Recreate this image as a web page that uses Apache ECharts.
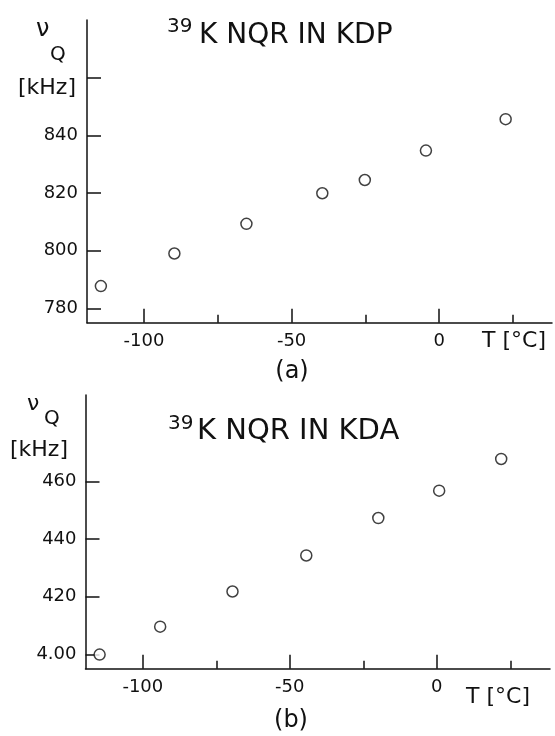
<!DOCTYPE html>
<html>
<head>
<meta charset="utf-8">
<script src="https://cdn.jsdelivr.net/npm/echarts@6.0.0/dist/echarts.min.js"></script>
<style>
  html, body { margin: 0; padding: 0; background: #fff; }
  #chart { width: 555px; height: 736px; }
</style>
</head>
<body>
<div id="chart"></div>
<script>
// (a) 39K NQR in KDP
const kdpT = [-114.6, -89.7, -65.3, -39.6, -25.2, -4.5, 22.5];
const kdpV = [787.7, 799.0, 809.3, 819.9, 824.5, 834.7, 845.6];
// (b) 39K NQR in KDA
const kdaT = [-114.7, -94.1, -69.5, -44.4, -19.9, 0.8, 21.9];
const kdaV = [399.9, 409.6, 421.8, 434.3, 447.3, 456.8, 467.8];

const xMajorTicks = [-100, -50, 0];
const xMinorTicks = [-75, -25, 25];
const kdpYTicks = [780, 800, 820, 840, 860];
const kdpYLabels = [780, 800, 820, 840];
const kdaYTicks = [400, 420, 440, 460];
const kdaYLabels = [400, 420, 440, 460];

const FONT = 'DejaVu Sans';
const INK = '#111';

const chart = echarts.init(document.getElementById('chart'), null, { renderer: 'canvas' });

function toPairs(xs, ys) {
  return xs.map((x, i) => [x, ys[i]]);
}

function xAxes(gridIndex, min, max) {
  return [
    {
      gridIndex: gridIndex, type: 'value', min: min, max: max, position: 'bottom',
      axisLine: { show: true, onZero: false, lineStyle: { color: INK, width: 1.5 } },
      axisTick: { show: true, inside: true, length: 14, customValues: xMajorTicks, lineStyle: { color: INK, width: 1.5 } },
      axisLabel: { show: true, customValues: xMajorTicks, margin: 10, color: INK, fontFamily: FONT, fontSize: 18 },
      splitLine: { show: false }
    },
    {
      gridIndex: gridIndex, type: 'value', min: min, max: max, position: 'bottom',
      axisLine: { show: false, onZero: false },
      axisTick: { show: true, inside: true, length: 8, customValues: xMinorTicks, lineStyle: { color: INK, width: 1.5 } },
      axisLabel: { show: false },
      splitLine: { show: false }
    }
  ];
}

function yAxis(gridIndex, min, max, ticks, labels, fmt) {
  return {
    gridIndex: gridIndex, type: 'value', min: min, max: max, position: 'left',
    axisLine: { show: true, onZero: false, lineStyle: { color: INK, width: 1.5 } },
    axisTick: { show: true, inside: true, length: 14, customValues: ticks, lineStyle: { color: INK, width: 1.5 } },
    axisLabel: { show: true, customValues: labels, margin: 9, color: INK, fontFamily: FONT, fontSize: 18, formatter: fmt },
    splitLine: { show: false }
  };
}

const circleStyle = { color: '#fff', borderColor: INK, borderWidth: 1.5 };

function txt(x, y, text, size, align) {
  return {
    type: 'text', x: x, y: y, silent: true,
    style: { text: text, fill: INK, font: size + 'px "' + FONT + '"', align: align || 'left', verticalAlign: 'middle' }
  };
}

const option = {
  backgroundColor: '#fff',
  animation: false,
  grid: [
    { left: 87, right: 3, top: 20, bottom: 413.3, containLabel: false, outerBoundsMode: 'none' },
    { left: 85.5, right: 5, top: 395, bottom: 67.3, containLabel: false, outerBoundsMode: 'none' }
  ],
  xAxis: xAxes(0, -119.3, 38.2).concat(xAxes(1, -119.5, 38.5)),
  yAxis: [
    yAxis(0, 775, 880, kdpYTicks, kdpYLabels, v => String(v)),
    yAxis(1, 395, 490, kdaYTicks, kdaYLabels, v => (v === 400 ? '4.00' : String(v)))
  ],
  series: [
    {
      type: 'scatter', xAxisIndex: 0, yAxisIndex: 0, data: toPairs(kdpT, kdpV),
      symbol: 'circle', symbolSize: 11, itemStyle: circleStyle
    },
    {
      type: 'scatter', xAxisIndex: 2, yAxisIndex: 1, data: toPairs(kdaT, kdaV),
      symbol: 'circle', symbolSize: 11, itemStyle: circleStyle
    }
  ],
  graphic: [
    // panel (a)
    txt(167, 26.5, '39', 20),
    txt(199, 36, 'K NQR IN KDP', 28),
    txt(36, 30, 'ν', 24),
    txt(50, 55, 'Q', 20),
    txt(18, 88, '[kHz]', 22),
    txt(482, 341, 'T [°C]', 22),
    txt(292, 372, '(a)', 24, 'center'),
    // panel (b)
    txt(168, 424, '39', 20),
    txt(197, 431, 'K NQR IN KDA', 29),
    txt(27, 404, 'ν', 22),
    txt(44, 419, 'Q', 20),
    txt(10, 450, '[kHz]', 22),
    txt(466, 697, 'T [°C]', 22),
    txt(291, 721, '(b)', 24, 'center')
  ]
};

chart.setOption(option);
</script>
</body>
</html>
